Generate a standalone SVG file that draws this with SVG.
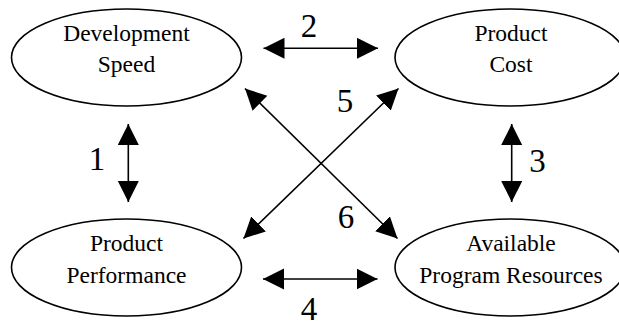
<svg xmlns="http://www.w3.org/2000/svg" width="619" height="324" viewBox="0 0 619 324">
<style>
.node ellipse{fill:#fff;stroke:#000;stroke-width:1.6}
text{font-family:'Liberation Serif','Tinos','Times New Roman','DejaVu Serif','Noto Serif',serif;fill:#000;text-anchor:middle}
.lbl{font-size:23.5px}
.num{font-size:33px}
.conn line{stroke:#000;stroke-width:1.6;marker-start:url(#ah);marker-end:url(#ah)}
</style>
<defs>
<marker id="ah" markerUnits="userSpaceOnUse" markerWidth="22" markerHeight="22" refX="21" refY="10.5" orient="auto-start-reverse" viewBox="0 0 22 22">
<path d="M0,0 L21,10.5 L0,21 Z" fill="#000"/>
</marker>
</defs>
<rect width="619" height="324" fill="#fff"/>
<g id="dev-speed" class="node">
<ellipse cx="126.5" cy="57.5" rx="115" ry="48.5"/>
<text class="lbl" x="126.5" y="41">Development</text>
<text class="lbl" x="126.5" y="72">Speed</text>
</g>
<g id="product-cost" class="node">
<ellipse cx="510" cy="57.5" rx="115" ry="48.5"/>
<text class="lbl" x="511" y="41">Product</text>
<text class="lbl" x="511" y="72">Cost</text>
</g>
<g id="product-performance" class="node">
<ellipse cx="126.5" cy="267.5" rx="115" ry="48.5"/>
<text class="lbl" x="126.5" y="250.5">Product</text>
<text class="lbl" x="126.5" y="283">Performance</text>
</g>
<g id="program-resources" class="node">
<ellipse cx="510" cy="267.5" rx="115" ry="48.5"/>
<text class="lbl" x="511" y="250.5">Available</text>
<text class="lbl" x="511" y="283">Program Resources</text>
</g>
<g id="connectors" class="conn">
<line x1="263.5" y1="48.3" x2="378" y2="48.3"/>
<line x1="128.3" y1="124" x2="128.3" y2="202"/>
<line x1="511.7" y1="124" x2="511.7" y2="202"/>
<line x1="263" y1="279" x2="377.5" y2="279"/>
<line x1="245" y1="88.5" x2="397.5" y2="238.5"/>
<line x1="398.5" y1="88.5" x2="243.5" y2="238.5"/>
</g>
<g id="labels">
<text class="num" x="309" y="36.5">2</text>
<text class="num" x="97" y="169.5">1</text>
<text class="num" x="537.5" y="171.5">3</text>
<text class="num" x="309" y="320">4</text>
<text class="num" x="345" y="111.5">5</text>
<text class="num" x="346" y="228">6</text>
</g>
</svg>
